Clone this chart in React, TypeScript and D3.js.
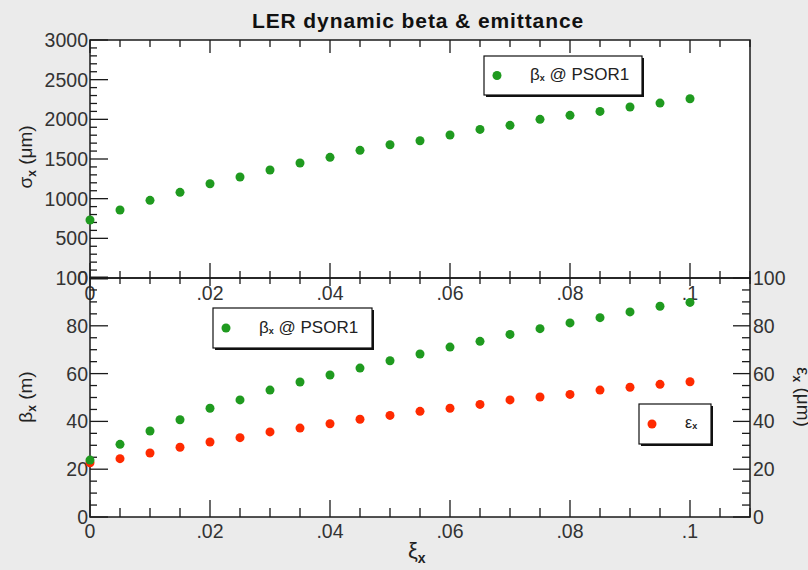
import * as d3 from "d3";

// xi_x scan points
const xi = [0, 0.005, 0.01, 0.015, 0.02, 0.025, 0.03, 0.035, 0.04, 0.045, 0.05,
  0.055, 0.06, 0.065, 0.07, 0.075, 0.08, 0.085, 0.09, 0.095, 0.1];
// sigma_x (um)
const sigma = [731, 857, 979, 1080, 1188, 1273, 1361, 1449, 1521, 1609, 1680,
  1730, 1802, 1873, 1924, 2000, 2050, 2100, 2155, 2205, 2260];
// beta_x @ PSOR1 (m)
const beta = [23.8, 30.4, 36.0, 40.7, 45.5, 49.0, 53.1, 56.5, 59.4, 62.3, 65.4,
  68.2, 71.1, 73.5, 76.4, 78.8, 81.2, 83.4, 85.8, 88.2, 89.8];
// epsilon_x (um)
const emit = [22.7, 24.4, 26.8, 29.2, 31.4, 33.2, 35.6, 37.2, 39.0, 40.9, 42.5,
  44.2, 45.5, 47.1, 49.0, 50.2, 51.3, 53.1, 54.3, 55.5, 56.6];

const xiTicks = [0, 0.02, 0.04, 0.06, 0.08, 0.1];
const sigmaTicks = [0, 500, 1000, 1500, 2000, 2500, 3000];
const betaTicks = [0, 20, 40, 60, 80, 100];

const GREEN = "#1f9a1f";
const RED = "#ff2a00";
const FONT = "'Liberation Sans', Arial, sans-serif";

const W = 808, H = 570;
const L = 90, R = 750, T = 40, MID = 278, B = 517;

const x = d3.scaleLinear().domain([0, 0.11]).range([L, R]);
const ySig = d3.scaleLinear().domain([0, 3000]).range([MID, T]);
const yBeta = d3.scaleLinear().domain([0, 100]).range([B, MID]);

const fmtXi = (d: number) => (d === 0 ? "0" : String(+d.toFixed(3)).replace(/^0\./, "."));

function Legend({ x0, y0, w, h, color, children }: any) {
  return (
    <g>
      <rect x={x0 + 2} y={y0 + 2} width={w} height={h} fill="#111" />
      <rect x={x0} y={y0} width={w} height={h} fill="#fff" stroke="#111" strokeWidth={1.2} />
      <circle cx={x0 + 13} cy={y0 + h / 2} r={4.5} fill={color} />
      {children}
    </g>
  );
}

export default function App() {
  const xMinor = x.ticks(22);
  const sigMinor = ySig.ticks(30);
  const betaMinor = yBeta.ticks(20);
  const stroke = "#1a1a1a";
  const tickText = { fontFamily: FONT, fontSize: 19.5, fill: "#333" };

  return (
    <>
      <style>{"body{margin:0}"}</style>
      <svg width={W} height={H} style={{ display: "block", background: "#ebebeb" }}>
        <rect x={L} y={T} width={R - L} height={B - T} fill="#fff" />

        {/* title */}
        <text x={418} y={28} textAnchor="middle" fontFamily={FONT} fontWeight="bold" fontSize={21}
          letterSpacing={0.9} fill="#111">
          LER dynamic beta &amp; emittance
        </text>

        {/* x ticks on both graphs */}
        {xMinor.map((d, i) => {
          const major = xiTicks.some((t) => Math.abs(t - d) < 1e-9);
          const px = x(d);
          return (
            <g key={"xt" + i} stroke={stroke} strokeWidth={1.3}>
              <line x1={px} x2={px} y1={T} y2={T + (major ? 13 : 7)} />
              <line x1={px} x2={px} y1={MID - (major ? 15 : 7)} y2={MID + (major ? 8 : 6)} />
              <line x1={px} x2={px} y1={B} y2={B - (major ? 17 : 9)} />
            </g>
          );
        })}
        {xiTicks.map((d) => (
          <g key={"xl" + d}>
            <text x={x(d)} y={300} textAnchor="middle" {...tickText}>{fmtXi(d)}</text>
            <text x={x(d)} y={538} textAnchor="middle" {...tickText}>{fmtXi(d)}</text>
          </g>
        ))}

        {/* top graph y axis */}
        {sigMinor.map((d) => {
          const major = d % 500 === 0;
          return (
            <line key={"sy" + d} x1={L} x2={L + (major ? 18 : 7)} y1={ySig(d)} y2={ySig(d)}
              stroke={stroke} strokeWidth={major && d === 0 ? 3 : 1.3} />
          );
        })}
        {sigmaTicks.map((d) => (
          <text key={"sl" + d} x={88} y={ySig(d) + 7} textAnchor="end" {...tickText}>{d}</text>
        ))}

        {/* bottom graph y axes */}
        {betaMinor.map((d) => {
          const major = d % 20 === 0;
          return (
            <g key={"by" + d} stroke={stroke} strokeWidth={1.3}>
              <line x1={L} x2={L + (major ? 18 : 7)} y1={yBeta(d)} y2={yBeta(d)} />
              <line x1={R} x2={R - (major ? 17 : 8)} y1={yBeta(d)} y2={yBeta(d)} />
            </g>
          );
        })}
        {betaTicks.map((d) => (
          <g key={"bl" + d}>
            <text x={88} y={yBeta(d) + 7} textAnchor="end" {...tickText}>{d}</text>
            <text x={753} y={yBeta(d) + 7} textAnchor="start" {...tickText}>{d}</text>
          </g>
        ))}

        {/* frames */}
        <rect x={L} y={T} width={R - L} height={MID - T} fill="none" stroke={stroke} strokeWidth={1.5} />
        <rect x={L} y={MID} width={R - L} height={B - MID} fill="none" stroke={stroke} strokeWidth={1.5} />

        {/* data */}
        {xi.map((d, i) => (
          <circle key={"s" + i} cx={x(d)} cy={ySig(sigma[i])} r={4.5} fill={GREEN} />
        ))}
        {xi.map((d, i) => (
          <circle key={"e" + i} cx={x(d)} cy={yBeta(emit[i])} r={4.5} fill={RED} />
        ))}
        {xi.map((d, i) => (
          <circle key={"b" + i} cx={x(d)} cy={yBeta(beta[i])} r={4.5} fill={GREEN} />
        ))}

        {/* legends */}
        <Legend x0={484} y0={56} w={158} h={39} color={GREEN}>
          <text x={530} y={80} fontFamily={FONT} fontSize={17} fill="#222">
            β<tspan fontSize={9} fontWeight="bold" dy={1}>x</tspan><tspan dy={-1}> @ PSOR1</tspan>
          </text>
        </Legend>
        <Legend x0={213} y0={308} w={159} h={40} color={GREEN}>
          <text x={259} y={333} fontFamily={FONT} fontSize={17} fill="#222">
            β<tspan fontSize={9} fontWeight="bold" dy={1}>x</tspan><tspan dy={-1}> @ PSOR1</tspan>
          </text>
        </Legend>
        <Legend x0={639} y0={404} w={72} h={40} color={RED}>
          <text x={685} y={428} fontFamily={FONT} fontSize={16} fill="#222">
            ε<tspan fontSize={9} fontWeight="bold" dy={1}>x</tspan>
          </text>
        </Legend>

        {/* axis titles */}
        <text transform="translate(32,157) rotate(-90)" textAnchor="middle" fontFamily={FONT} fontSize={19} fill="#222">
          σ<tspan fontSize={12} fontWeight="bold" dy={4}>x</tspan><tspan dy={-4}> (μm)</tspan>
        </text>
        <text transform="translate(32,397) rotate(-90)" textAnchor="middle" fontFamily={FONT} fontSize={19} fill="#222">
          β<tspan fontSize={12} fontWeight="bold" dy={4}>x</tspan><tspan dy={-4}> (m)</tspan>
        </text>
        <text transform="translate(797,397) rotate(90)" textAnchor="middle" fontFamily={FONT} fontSize={19} fill="#222">
          ε<tspan fontSize={12} fontWeight="bold" dy={4}>x</tspan><tspan dy={-4}> (μm)</tspan>
        </text>
        <text x={408} y={558} fontFamily={FONT} fontSize={22} fill="#222">
          ξ<tspan fontSize={14} fontWeight="bold" dy={5}>x</tspan>
        </text>
      </svg>
    </>
  );
}
